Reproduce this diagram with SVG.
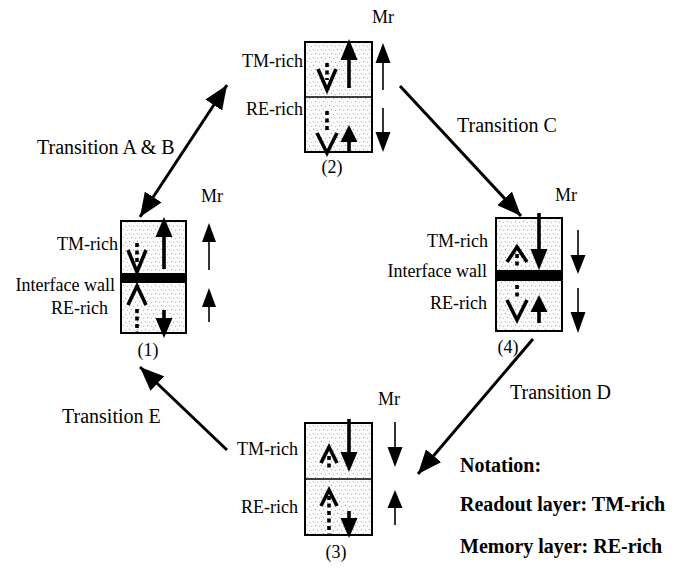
<svg xmlns="http://www.w3.org/2000/svg" width="686" height="570" viewBox="0 0 686 570">
  <style>
    text { font-family: "Liberation Serif", "Times New Roman", serif; fill: #000; }
    .lbl { font-size: 18px; }
    .tr { font-size: 20px; }
    .note { font-size: 20px; font-weight: bold; }
    .box { fill: url(#stipple); stroke: #000; stroke-width: 2; }
    .div { stroke: #000; stroke-width: 1.6; }
    .wall { fill: #000; }
    .shaft { stroke: #000; stroke-width: 3.6; fill: none; }
    .thin { stroke: #000; stroke-width: 1.6; fill: none; }
    .dots { stroke: #000; stroke-width: 3.6; stroke-dasharray: 4 3.5; fill: none; }
    .vee { stroke: #000; stroke-width: 3.6; fill: none; stroke-linejoin: miter; }
    .conn { stroke: #000; stroke-width: 3; fill: none; }
    .head { fill: #000; }
  </style>
  <defs>
    <!-- light stippled fill for the layer cells -->
    <pattern id="stipple" width="8" height="8" patternUnits="userSpaceOnUse">
      <rect width="8" height="8" fill="#fbfbfb"/>
      <rect x="1" y="1" width="1" height="1" fill="#9a9a9a"/>
      <rect x="5" y="2" width="1" height="1" fill="#b5b5b5"/>
      <rect x="3" y="5" width="1" height="1" fill="#a8a8a8"/>
      <rect x="7" y="6" width="1" height="1" fill="#bdbdbd"/>
    </pattern>
    <marker id="arrow" viewBox="0 0 24 20" refX="24" refY="10" markerWidth="24" markerHeight="20" markerUnits="userSpaceOnUse" orient="auto-start-reverse">
      <path d="M0,0 L24,10 L0,20 Z" fill="#000"/>
    </marker>
  </defs>

  <rect width="686" height="570" fill="#fff"/>

  <!-- transitions between the four states -->
  <g id="connectors">
    <line class="conn" x1="140" y1="217" x2="227" y2="85" marker-start="url(#arrow)" marker-end="url(#arrow)"/>
    <line class="conn" x1="400" y1="86" x2="521" y2="216" marker-end="url(#arrow)"/>
    <line class="conn" x1="533" y1="339" x2="418" y2="474" marker-end="url(#arrow)"/>
    <line class="conn" x1="227" y1="450" x2="140" y2="367" marker-end="url(#arrow)"/>
    <text class="tr" x="37" y="154">Transition A &amp; B</text>
    <text class="tr" x="457" y="132">Transition C</text>
    <text class="tr" x="510" y="399">Transition D</text>
    <text class="tr" x="62" y="423">Transition E</text>
  </g>

  <!-- state (1): with interface wall -->
  <g id="state1">
    <rect class="box" x="121" y="221" width="65" height="112"/>
    <rect class="wall" x="121" y="273" width="65" height="10"/>
    <line class="shaft" x1="164" y1="269" x2="164" y2="234"/>
    <polygon class="head" points="164,217 172.5,237 155.5,237"/>
    <line class="dots" x1="137" y1="243" x2="137" y2="262"/>
    <polyline class="vee" points="128,250 137,272 146,250"/>
    <polyline class="vee" points="128,305 137,286 146,305"/>
    <line class="dots" x1="137" y1="309" x2="137" y2="333"/>
    <line class="shaft" x1="164" y1="310" x2="164" y2="320"/>
    <polygon class="head" points="164,338 172.5,318 155.5,318"/>
    <line class="thin" x1="209" y1="240" x2="209" y2="270"/>
    <polygon class="head" points="209,223 216,242 202,242"/>
    <line class="thin" x1="209" y1="305" x2="209" y2="322"/>
    <polygon class="head" points="209,288 216,307 202,307"/>
    <text class="lbl" x="212" y="202" text-anchor="middle">Mr</text>
    <text class="lbl" x="118" y="250" text-anchor="end">TM-rich</text>
    <text class="lbl" x="115" y="291" text-anchor="end">Interface wall</text>
    <text class="lbl" x="108" y="314" text-anchor="end">RE-rich</text>
    <text class="lbl" x="148" y="356" text-anchor="middle">(1)</text>
  </g>

  <!-- state (2) -->
  <g id="state2">
    <rect class="box" x="305" y="42" width="67" height="110"/>
    <line class="div" x1="305" y1="97" x2="372" y2="97"/>
    <line class="shaft" x1="349" y1="88" x2="349" y2="57"/>
    <polygon class="head" points="349,39 357.5,60 340.5,60"/>
    <line class="dots" x1="327" y1="63" x2="327" y2="80"/>
    <polyline class="vee" points="318,69 327,90 336,69"/>
    <line class="dots" x1="327" y1="111" x2="327" y2="133"/>
    <polyline class="vee" points="317,133 327,153 337,133"/>
    <line class="shaft" x1="349" y1="153" x2="349" y2="139"/>
    <polygon class="head" points="349,125 357.5,142 340.5,142"/>
    <polygon class="head" points="383,43 390.5,63 375.5,63"/>
    <line class="thin" x1="383" y1="61" x2="383" y2="90"/>
    <line class="thin" x1="383" y1="108" x2="383" y2="134"/>
    <polygon class="head" points="383,152 390.5,132 375.5,132"/>
    <text class="lbl" x="383" y="23" text-anchor="middle">Mr</text>
    <text class="lbl" x="303" y="67" text-anchor="end">TM-rich</text>
    <text class="lbl" x="303" y="115" text-anchor="end">RE-rich</text>
    <text class="lbl" x="332" y="173" text-anchor="middle">(2)</text>
  </g>

  <!-- state (3) -->
  <g id="state3">
    <rect class="box" x="305" y="423" width="67" height="112"/>
    <line class="div" x1="305" y1="479" x2="372" y2="479"/>
    <line class="shaft" x1="349" y1="419" x2="349" y2="455"/>
    <polygon class="head" points="349,472 357.5,452 340.5,452"/>
    <polyline class="vee" points="321,463 329,447 337,463"/>
    <line class="dots" x1="329" y1="456" x2="329" y2="468"/>
    <polyline class="vee" points="321,506 329,490 337,506"/>
    <line class="dots" x1="329" y1="496" x2="329" y2="535"/>
    <line class="shaft" x1="349" y1="511" x2="349" y2="521"/>
    <polygon class="head" points="349,538 357.5,518 340.5,518"/>
    <line class="thin" x1="395" y1="422" x2="395" y2="449"/>
    <polygon class="head" points="395,467 402.5,447 387.5,447"/>
    <polygon class="head" points="395,490 402.5,508 387.5,508"/>
    <line class="thin" x1="395" y1="506" x2="395" y2="525"/>
    <text class="lbl" x="389" y="405" text-anchor="middle">Mr</text>
    <text class="lbl" x="298" y="455" text-anchor="end">TM-rich</text>
    <text class="lbl" x="298" y="513" text-anchor="end">RE-rich</text>
    <text class="lbl" x="336" y="558" text-anchor="middle">(3)</text>
  </g>

  <!-- state (4): with interface wall -->
  <g id="state4">
    <rect class="box" x="496" y="218" width="66" height="113"/>
    <rect class="wall" x="496" y="270" width="66" height="11"/>
    <line class="shaft" x1="539" y1="213" x2="539" y2="252"/>
    <polygon class="head" points="539,270 547.5,249 530.5,249"/>
    <polyline class="vee" points="507,262 517,247 527,262"/>
    <line class="dots" x1="517" y1="254" x2="517" y2="267"/>
    <line class="dots" x1="517" y1="285" x2="517" y2="300"/>
    <polyline class="vee" points="507,300 517,320 527,300"/>
    <line class="shaft" x1="539" y1="323" x2="539" y2="308"/>
    <polygon class="head" points="539,295 547.5,312 530.5,312"/>
    <line class="thin" x1="578" y1="230" x2="578" y2="257"/>
    <polygon class="head" points="578,274 585.5,255 570.5,255"/>
    <line class="thin" x1="578" y1="288" x2="578" y2="314"/>
    <polygon class="head" points="578,333 585.5,312 570.5,312"/>
    <text class="lbl" x="566" y="201" text-anchor="middle">Mr</text>
    <text class="lbl" x="488" y="247" text-anchor="end">TM-rich</text>
    <text class="lbl" x="487" y="277" text-anchor="end">Interface wall</text>
    <text class="lbl" x="487" y="309" text-anchor="end">RE-rich</text>
    <text class="lbl" x="508" y="353" text-anchor="middle">(4)</text>
  </g>

  <!-- notation key -->
  <g id="notation">
    <text class="note" x="460" y="472">Notation:</text>
    <text class="note" x="460" y="511">Readout layer: TM-rich</text>
    <text class="note" x="460" y="553">Memory layer: RE-rich</text>
  </g>
</svg>
